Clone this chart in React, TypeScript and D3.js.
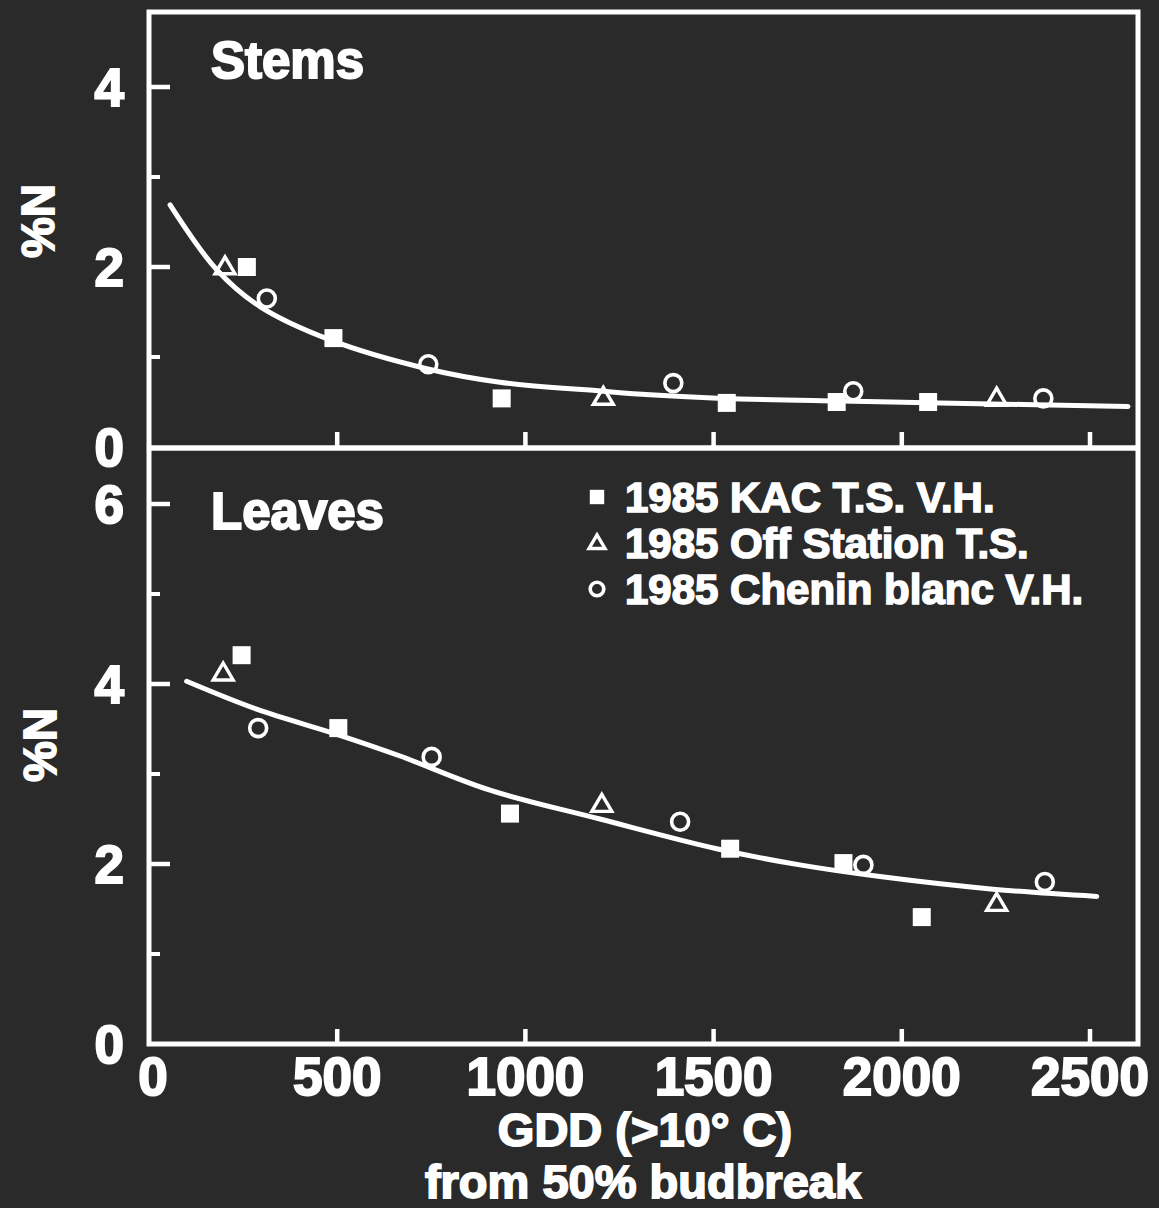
import React from "react";
import * as d3 from "d3";

// ---- data (GDD from 50% budbreak, %N) ----
const xTicks = [0, 500, 1000, 1500, 2000, 2500];
const stemsYTicks = [0, 2, 4];
const stemsMinor = [1, 3];
const leavesYTicks = [0, 2, 4, 6];
const leavesMinor = [1, 3, 5];

const stemsKAC: [number, number][] = [[260, 2.0], [490, 1.21], [937, 0.54], [1535, 0.49], [1827, 0.5], [2070, 0.5]];
const stemsOff: [number, number][] = [[202, 2.0], [1207, 0.55], [2252, 0.54]];
const stemsChenin: [number, number][] = [[313, 1.65], [742, 0.92], [1393, 0.71], [1871, 0.62], [2376, 0.54]];
const stemsFit: [number, number][] = [[56, 2.69], [180, 1.97], [295, 1.56], [481, 1.19], [738, 0.87], [932, 0.72], [1206, 0.62], [1331, 0.58], [1525, 0.54], [1836, 0.51], [2101, 0.49], [2601, 0.45]];

const leavesKAC: [number, number][] = [[246, 4.32], [503, 3.51], [959, 2.56], [1544, 2.17], [1845, 2.01], [2053, 1.41]];
const leavesOff: [number, number][] = [[197, 4.12], [1203, 2.66], [2252, 1.56]];
const leavesChenin: [number, number][] = [[290, 3.51], [751, 3.19], [1411, 2.47], [1898, 1.99], [2380, 1.8]];
const leavesFit: [number, number][] = [[100, 4.03], [286, 3.72], [507, 3.43], [667, 3.2], [906, 2.82], [1198, 2.5], [1508, 2.17], [1729, 1.99], [1942, 1.86], [2242, 1.72], [2518, 1.64]];

const legendItems = [
  { shape: "square", label: "1985 KAC T.S. V.H." },
  { shape: "triangle", label: "1985 Off Station T.S." },
  { shape: "circle", label: "1985 Chenin blanc V.H." },
];

const W = 1159, H = 1208;
const BG = "#2a2a2a";
const FG = "#ffffff";
const FONT = "'Liberation Sans', Arial, Helvetica, sans-serif";

const x = d3.scaleLinear().domain([0, 2500]).range([149, 1090]);
const yTop = d3.scaleLinear().domain([0, 4]).range([447, 87]);
const yBot = d3.scaleLinear().domain([0, 6]).range([1044, 504]);
const xRight = 1138;
const topY = 12;

function Marker({ shape, cx, cy, s = 1 }: { shape: string; cx: number; cy: number; s?: number }) {
  if (shape === "square") {
    const a = 18 * s;
    return <rect x={cx - a / 2} y={cy - a / 2} width={a} height={a} fill={FG} />;
  }
  if (shape === "triangle") {
    const w = 20 * s, h = 17 * s;
    const p = `M${cx},${cy - h * 0.6}L${cx + w / 2},${cy + h * 0.4}L${cx - w / 2},${cy + h * 0.4}Z`;
    return <path d={p} fill="none" stroke={FG} strokeWidth={3.4} strokeLinejoin="miter" />;
  }
  return <circle cx={cx} cy={cy} r={8.5 * s} fill="none" stroke={FG} strokeWidth={3.6} />;
}

function Panel({ y, yTicks, minor, kac, off, chenin, fit, title }: any) {
  const y0 = y(0);
  const line = d3.line<[number, number]>().x(d => x(d[0])).y(d => y(d[1])).curve(d3.curveCatmullRom.alpha(0.5));
  return (
    <g>
      {yTicks.map((t: number) => (
        <g key={"yt" + t}>
          {t > 0 && <line x1={149} x2={170} y1={y(t)} y2={y(t)} stroke={FG} strokeWidth={4.5} />}
          <text x={124} y={y(t)} dy="0.36em" textAnchor="end" fontSize={53} fontWeight={700} fill={FG} stroke={FG} strokeWidth={2} fontFamily={FONT}>{t}</text>
        </g>
      ))}
      {minor.map((t: number) => (
        <line key={"ym" + t} x1={149} x2={160} y1={y(t)} y2={y(t)} stroke={FG} strokeWidth={4} />
      ))}
      {xTicks.filter(t => t > 0).map(t => (
        <line key={"xt" + t} x1={x(t)} x2={x(t)} y1={y0} y2={y0 - 15} stroke={FG} strokeWidth={4.5} />
      ))}
      <path d={line(fit) || ""} fill="none" stroke={FG} strokeWidth={5} strokeLinecap="round" />
      {kac.map((d: [number, number], i: number) => <Marker key={"k" + i} shape="square" cx={x(d[0])} cy={y(d[1])} />)}
      {off.map((d: [number, number], i: number) => <Marker key={"o" + i} shape="triangle" cx={x(d[0])} cy={y(d[1])} />)}
      {chenin.map((d: [number, number], i: number) => <Marker key={"c" + i} shape="circle" cx={x(d[0])} cy={y(d[1])} />)}
      <text x={211} y={title.y} fontSize={51} fontWeight={700} fill={FG} stroke={FG} strokeWidth={2} fontFamily={FONT}>{title.text}</text>
    </g>
  );
}

export default function App() {
  const midY = yTop(0);
  return (
    <svg width={W} height={H} style={{ position: "absolute", left: 0, top: 0, display: "block" }} xmlns="http://www.w3.org/2000/svg">
      <rect x={0} y={0} width={W} height={H} fill={BG} />
      <rect x={x(0)} y={topY} width={xRight - x(0)} height={yBot(0) - topY} fill="none" stroke={FG} strokeWidth={5} />
      <line x1={x(0)} x2={xRight} y1={midY + 1} y2={midY + 1} stroke={FG} strokeWidth={5.5} />

      <Panel y={yTop} yTicks={stemsYTicks} minor={stemsMinor} kac={stemsKAC} off={stemsOff} chenin={stemsChenin} fit={stemsFit} title={{ text: "Stems", y: 78 }} />
      <Panel y={yBot} yTicks={leavesYTicks} minor={leavesMinor} kac={leavesKAC} off={leavesOff} chenin={leavesChenin} fit={leavesFit} title={{ text: "Leaves", y: 529 }} />

      {legendItems.map((it, i) => (
        <g key={it.label}>
          <Marker shape={it.shape} cx={597} cy={497 + i * 46} s={0.8} />
          <text x={625} y={497 + i * 46} dy="0.36em" fontSize={42} fontWeight={700} fill={FG} stroke={FG} strokeWidth={1.6} fontFamily={FONT}>{it.label}</text>
        </g>
      ))}

      {xTicks.map(t => (
        <text key={"xl" + t} x={x(t) + (t === 0 ? 4 : 0)} y={1076} dy="0.36em" textAnchor="middle" fontSize={53} fontWeight={700} fill={FG} stroke={FG} strokeWidth={2} fontFamily={FONT}>{t}</text>
      ))}

      <text transform="translate(54,221) rotate(-90)" textAnchor="middle" fontSize={46} fontWeight={700} fill={FG} stroke={FG} strokeWidth={1.8} fontFamily={FONT}>%N</text>
      <text transform="translate(56,745) rotate(-90)" textAnchor="middle" fontSize={46} fontWeight={700} fill={FG} stroke={FG} strokeWidth={1.8} fontFamily={FONT}>%N</text>
      <text x={645} y={1146} textAnchor="middle" fontSize={47} fontWeight={700} fill={FG} stroke={FG} strokeWidth={1.8} fontFamily={FONT}>GDD (&gt;10° C)</text>
      <text x={643} y={1198} textAnchor="middle" fontSize={47} fontWeight={700} fill={FG} stroke={FG} strokeWidth={1.8} fontFamily={FONT}>from 50% budbreak</text>
    </svg>
  );
}
